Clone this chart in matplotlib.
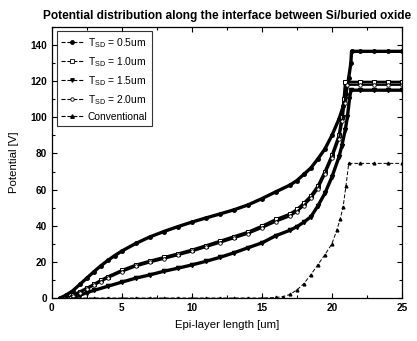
import matplotlib
matplotlib.use("Agg")
import matplotlib.pyplot as plt
from matplotlib.lines import Line2D
from matplotlib.ticker import MultipleLocator

plt.rcParams['font.family'] = ['Liberation Sans', 'DejaVu Sans']
plt.rcParams['mathtext.fontset'] = 'custom'
plt.rcParams['mathtext.rm'] = 'Liberation Sans'
plt.rcParams['mathtext.it'] = 'Liberation Sans'

# ---- data ----
x_05 = [0.6, 1.0, 1.5, 2.0, 2.5, 3.0, 3.5, 4.0, 4.5, 5, 6, 7, 8, 9, 10, 11, 12, 13, 14, 15, 16,
        17, 17.5, 18, 18.5, 19, 19.5, 20, 20.5, 20.8, 21.0, 21.2, 21.35, 21.4, 22, 23, 24, 25]
y_05 = [0, 1.5, 4, 7.5, 11, 14.5, 17.8, 20.8, 23.5, 26, 30.2, 33.8, 36.8, 39.5, 42, 44.3, 46.5, 48.8, 51.5, 55, 58.8,
        62.5, 65, 68.5, 72, 77, 82.5, 90, 99, 106, 113, 122, 130, 136.5, 136.5, 136.5, 136.5, 136.5]

x_10 = [1.2, 1.5, 2, 2.5, 3, 3.5, 4, 5, 6, 7, 8, 9, 10, 11, 12, 13, 14, 15, 16, 17, 17.5,
        18, 18.5, 19, 19.5, 20, 20.5, 20.7, 20.85, 20.95, 22, 23, 24, 25]
y_10 = [0, 1.5, 3.5, 5.5, 7.5, 9.8, 11.8, 15.3, 18.3, 20.5, 22.5, 24.5, 26.6, 29, 31.5, 34, 36.5, 39.8, 43.5, 46.5, 49,
        52.5, 56.5, 62, 70, 79, 90, 100, 110, 119.5, 119.5, 119.5, 119.5, 119.5]

x_15 = [1.5, 2, 2.5, 3, 4, 5, 6, 7, 8, 9, 10, 11, 12, 13, 14, 15, 16, 17, 17.5, 18, 18.5,
        19, 19.5, 20, 20.5, 20.7, 20.95, 21.1, 21.25, 21.35, 22, 23, 24, 25]
y_15 = [0, 1.5, 3, 4.2, 6.5, 8.8, 11, 12.8, 14.8, 16.5, 18.3, 20.3, 22.5, 25, 27.8, 30.5, 34.5, 37.5, 39.5, 42, 45,
        51, 58, 67, 78, 84, 93, 100, 110, 115, 115, 115, 115, 115]

x_20 = [1.3, 1.5, 2, 2.5, 3, 3.5, 4, 5, 6, 7, 8, 9, 10, 11, 12, 13, 14, 15, 16, 17, 17.5,
        18, 18.5, 19, 19.5, 20, 20.5, 20.75, 20.9, 21.05, 22, 23, 24, 25]
y_20 = [0, 1.0, 3.0, 5.0, 7.0, 9.1, 11.1, 14.6, 17.5, 19.7, 21.7, 23.7, 25.8, 28.2, 30.6, 33.1, 35.6, 38.8, 42.3, 45.3, 47.8,
        51.2, 55.2, 60.5, 68.5, 77.5, 88, 98, 108, 118, 118, 118, 118, 118]

x_conv = [1.0, 2, 3, 4, 5, 6, 7, 8, 9, 10, 11, 12, 13, 14, 15, 16, 16.5, 17, 17.5, 18, 18.5,
          19, 19.5, 20, 20.35, 20.6, 20.8, 21.0, 21.2, 22, 23, 24, 25]
y_conv = [0, 0, 0, 0, 0, 0, 0, 0, 0, 0, 0, 0, 0, 0, 0, 0.3, 0.8, 2, 4.5, 8, 13,
          18.5, 24, 30, 37.6, 44, 50.5, 62, 74.5, 74.5, 74.5, 74.5, 74.5]

labels = [r'T$_{\mathrm{SD}}$ = 0.5um', r'T$_{\mathrm{SD}}$ = 1.0um', r'T$_{\mathrm{SD}}$ = 1.5um',
          r'T$_{\mathrm{SD}}$ = 2.0um', 'Conventional']

fig = plt.figure(figsize=(4.17, 3.41), dpi=100)
ax = fig.add_axes([0.124, 0.126, 0.840, 0.795])

ax.plot(x_05, y_05, color='black', lw=2.4, ls='-', marker='o', ms=2.5, mfc='black')
ax.plot(x_10, y_10, color='black', lw=2.0, ls='-', marker='s', ms=3, mfc='white', mew=0.7)
ax.plot(x_15, y_15, color='black', lw=2.4, ls='-', marker='v', ms=3, mfc='black')
ax.plot(x_20, y_20, color='black', lw=1.6, ls='-', marker='o', ms=2.5, mfc='white', mew=0.6)
ax.plot(x_conv, y_conv, color='black', lw=0.7, ls=(0, (4, 2)), marker='^', ms=2, mfc='black')

handles = [
    Line2D([], [], color='black', lw=0.8, ls='--', marker='o', ms=2.5, mfc='black'),
    Line2D([], [], color='black', lw=0.8, ls='--', marker='s', ms=2.5, mfc='white', mew=0.6),
    Line2D([], [], color='black', lw=0.8, ls='--', marker='v', ms=2.5, mfc='black'),
    Line2D([], [], color='black', lw=0.8, ls='--', marker='o', ms=2.5, mfc='white', mew=0.6),
    Line2D([], [], color='black', lw=0.8, ls='--', marker='^', ms=2.5, mfc='black'),
]
leg = ax.legend(handles, labels, loc='upper left', bbox_to_anchor=(0.005, 0.995), fontsize=7.4,
                frameon=True, fancybox=False, edgecolor='black', handlelength=2.2,
                handletextpad=0.4, borderpad=0.45, labelspacing=0.5, borderaxespad=0.3)
leg.get_frame().set_linewidth(0.8)

ax.set_xlim(0, 25)
ax.set_ylim(0, 150)
ax.xaxis.set_major_locator(MultipleLocator(5))
ax.xaxis.set_minor_locator(MultipleLocator(2.5))
ax.set_yticks([0, 20, 40, 60, 80, 100, 120, 140])
ax.yaxis.set_minor_locator(MultipleLocator(10))
ax.tick_params(which='both', direction='in', top=True, right=True, width=0.8)
ax.tick_params(which='major', length=3.5, labelsize=7.2)
ax.tick_params(which='minor', length=2)
for lbl in ax.get_xticklabels() + ax.get_yticklabels():
    lbl.set_fontweight('bold')
for s in ax.spines.values():
    s.set_linewidth(0.9)

ax.set_xlabel('Epi-layer length [um]', fontsize=8.2, labelpad=5)
ax.set_ylabel('Potential [V]', fontsize=8.2, labelpad=8)
ax.set_title('Potential distribution along the interface between Si/buried oxide',
             fontsize=8.6, fontweight='bold', pad=6)

fig.savefig('out.png', dpi=100)
